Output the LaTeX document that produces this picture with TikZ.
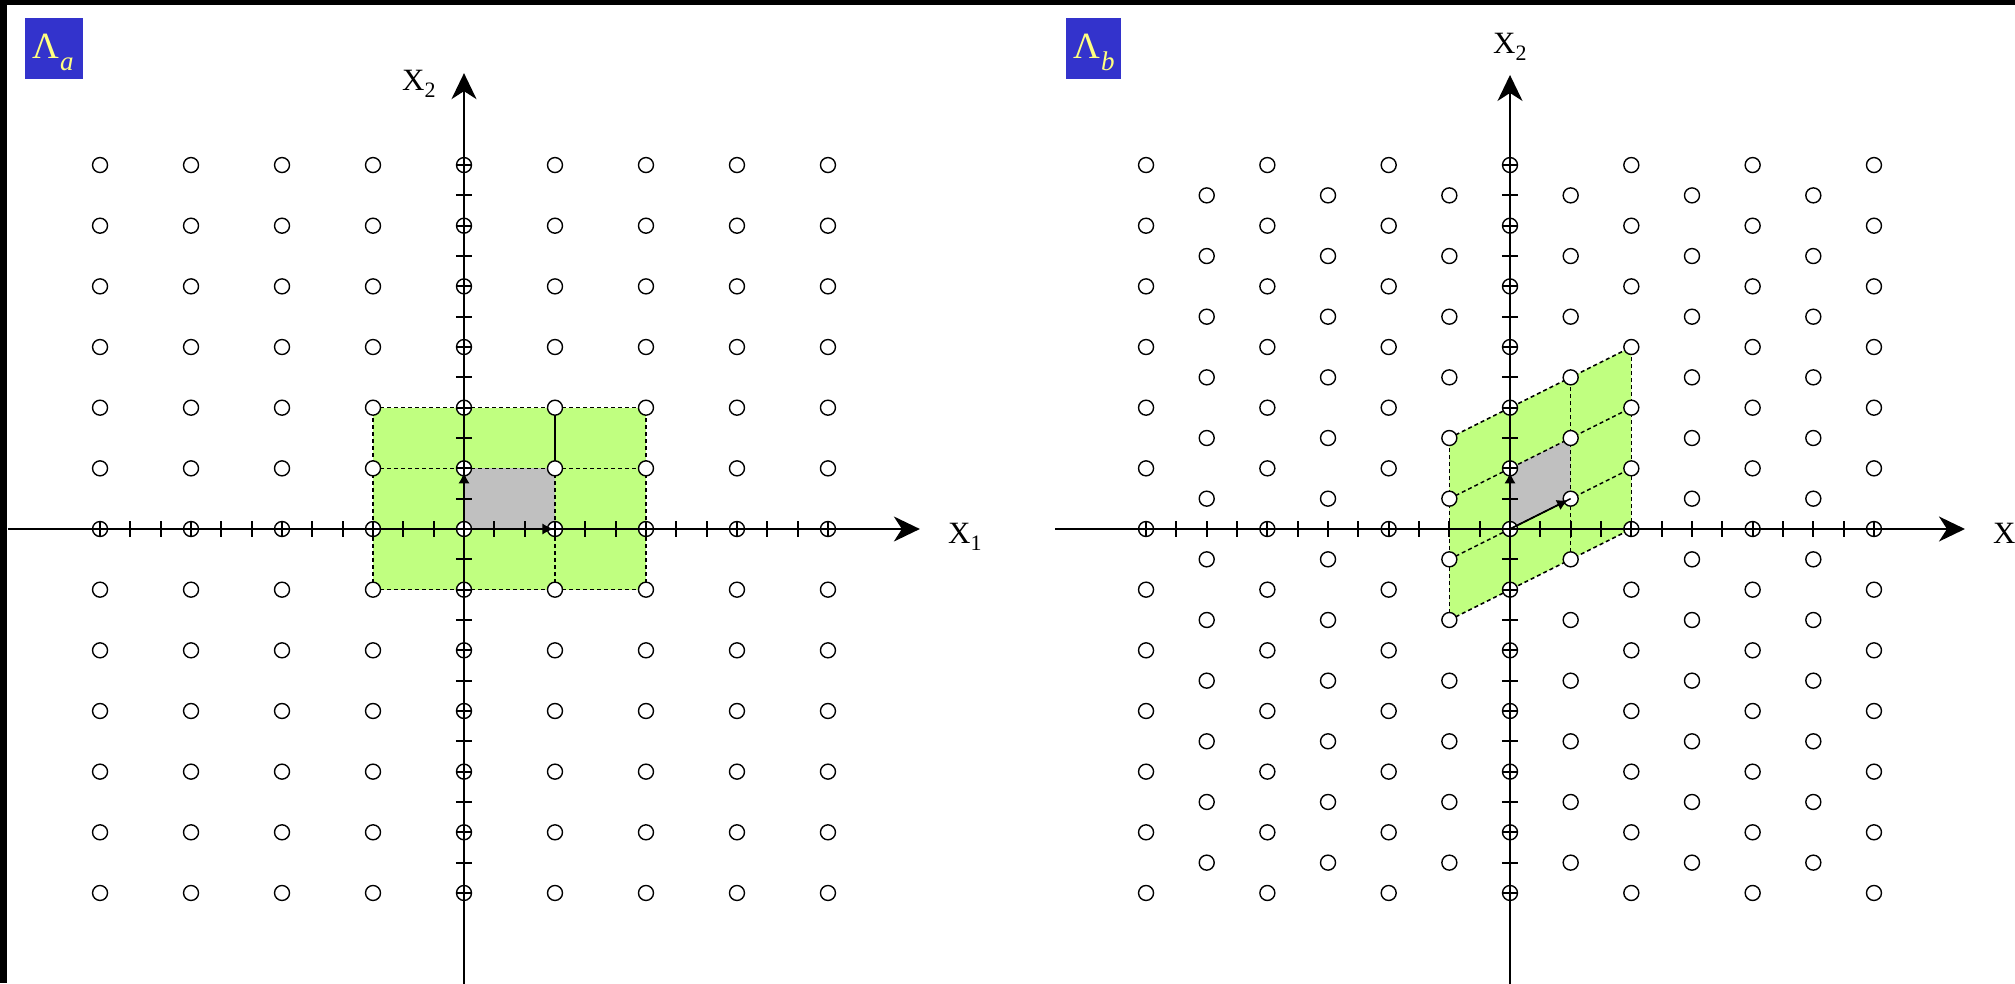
\documentclass[tikz,border=0pt]{standalone}
\usepackage{fontspec}
\setmainfont{Liberation Serif}
\usetikzlibrary{arrows.meta}
\definecolor{tagblue}{RGB}{51,51,204}
\definecolor{tagyellow}{RGB}{255,255,128}
\definecolor{cellgreen}{RGB}{192,255,128}
\definecolor{cellgrey}{RGB}{192,192,192}
\begin{document}
\begin{tikzpicture}[x=1pt,y=-1pt,
  lat/.style={circle,draw=black,fill=white,line width=1.4pt,inner sep=0pt,minimum size=15pt},
  axisline/.style={line width=1.8pt,-{Stealth[length=26pt,width=25pt,inset=8pt]}},
  tickmark/.style={line width=1.8pt},
  cellgrid/.style={dash pattern=on 4pt off 3pt,line width=1.5pt},
  vec/.style={line width=1.4pt,-{Latex[length=11pt,width=11pt]},shorten >=1.5pt},
  tagbox/.style={fill=tagblue,inner sep=0pt,anchor=north west},
  tagtext/.style={text=tagyellow,inner sep=0pt,anchor=base west,font=\fontsize{37}{37}\selectfont},
  axlabel/.style={inner sep=0pt,anchor=base west,font=\fontsize{31}{31}\selectfont}]
\useasboundingbox (0,0) rectangle (2015,983);
\clip (0,0) rectangle (2015,983);
\fill[white] (0,0) rectangle (2015,983);
\fill[black] (0,0) rectangle (2015,5);
\fill[black] (0,0) rectangle (7,983);

% ---------- left panel ----------
\begin{scope}[shift={(464pt,-529pt)},x=30.33pt,y=30.33pt]
  \fill[cellgreen] (-3,-2) rectangle (6,4);
  \fill[cellgrey] (0,0) rectangle (3,2);
  \foreach \yy in {-2,2,4} \draw[cellgrid] (-3,\yy) -- (6,\yy);
  \foreach \xx in {-3,3,6} \draw[cellgrid] (\xx,-2) -- (\xx,4);
  \foreach \i in {-4,...,4}
    \foreach \j in {-6,...,6}
      \node[lat] (a\i-\j) at (3*\i,2*\j) {};
  \draw[line width=1.4pt] (a1-1) -- (a1-2);
  \coordinate (axa1s) at (-15.05,0);
  \coordinate (axa1e) at (15.03,0);
  \coordinate (axa2s) at (0,-15.0);
  \coordinate (axa2e) at (0,15.03);
  \draw[axisline] (axa1s) -- (axa1e);
  \draw[axisline] (axa2s) -- (axa2e);
  \foreach \k in {-12,...,12} {
    \draw[tickmark] (\k,-0.25) -- (\k,0.25);
    \draw[tickmark] (-0.27,\k) -- (0.27,\k);
  }
  \draw[vec] (a0-0.center) -- (a1-0.center);
  \draw[vec,shorten >=4pt] (a0-0.center) -- (a0-1.center);
\end{scope}

% ---------- right panel ----------
\begin{scope}[shift={(1510pt,-529pt)},x=30.33pt,y=30.33pt]
  \fill[cellgreen] (-2,-3) -- (4,0) -- (4,6) -- (-2,3) -- cycle;
  \fill[cellgrey] (0,0) -- (2,1) -- (2,3) -- (0,2) -- cycle;
  \foreach \s in {-1,1,2} \draw[cellgrid] (2*\s,\s-2) -- (2*\s,\s+4);
  \foreach \t in {-1,0,1,2} \draw[cellgrid] (-2,2*\t-1) -- (4,2*\t+2);
  \foreach \s in {-6,...,6} {
    \pgfmathtruncatemacro\mstart{-12+mod(abs(\s),2)}
    \pgfmathtruncatemacro\mnext{\mstart+2}
    \foreach \m in {\mstart,\mnext,...,12}
      \node[lat] (b\s-\m) at (2*\s,\m) {};
  }
  \draw[line width=1.4pt] (b0-0.center) -- (b1-1.center);
  \coordinate (axb1s) at (-15.0,0);
  \coordinate (axb1e) at (15.0,0);
  \coordinate (axb2s) at (0,-15.0);
  \coordinate (axb2e) at (0,14.97);
  \draw[axisline] (axb1s) -- (axb1e);
  \draw[axisline] (axb2s) -- (axb2e);
  \foreach \k in {-12,...,12} {
    \draw[tickmark] (\k,-0.25) -- (\k,0.25);
    \draw[tickmark] (-0.27,\k) -- (0.27,\k);
  }
  \draw[vec,shorten >=3pt] (b0-0.center) -- (b1-1.center);
  \draw[vec,shorten >=4pt] (b0-0.center) -- (b0-2.center);
\end{scope}

% ---------- tags ----------
\node[tagbox,minimum width=58pt,minimum height=61pt] (taga) at (25,18) {};
\node[tagtext] (lama) at (32,58) {Λ};
\node[tagtext,font=\fontsize{27}{27}\itshape] (suba) at (60,70) {a};
\node[tagbox,minimum width=55pt,minimum height=61pt] (tagb) at (1066,18) {};
\node[tagtext] (lamb) at (1073,58) {Λ};
\node[tagtext,font=\fontsize{27}{27}\itshape] (subb) at (1101,70) {b};

% ---------- axis labels ----------
\node[axlabel] (lx2a) at (402,90) {X\raisebox{-7pt}{\fontsize{22}{22}\selectfont 2}};
\node[axlabel] (lx1a) at (948,543) {X\raisebox{-7pt}{\fontsize{22}{22}\selectfont 1}};
\node[axlabel] (lx2b) at (1493,53) {X\raisebox{-7pt}{\fontsize{22}{22}\selectfont 2}};
\node[axlabel] (lx1b) at (1993,543) {X\raisebox{-7pt}{\fontsize{22}{22}\selectfont 1}};
\end{tikzpicture}
\end{document}
